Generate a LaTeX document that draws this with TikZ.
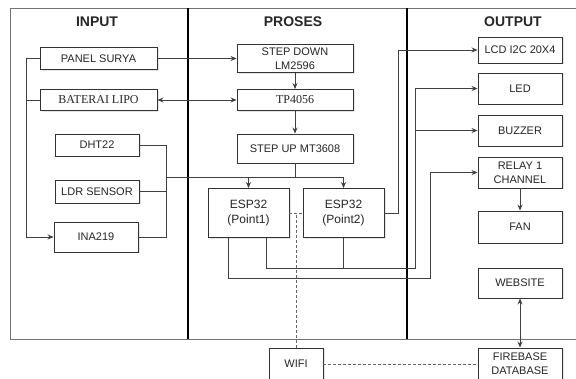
\documentclass[tikz,border=0pt]{standalone}
\usepackage{fontspec}
\setmainfont{Liberation Sans}
\newfontfamily\timesfont{Liberation Serif}
\usetikzlibrary{arrows.meta,shadows}
\begin{document}
\begin{tikzpicture}[x=1pt,y=-1pt,>={Stealth[length=6pt,width=5pt]},
blok/.style={draw=black!80,line width=0.9pt,fill=white,inner sep=0pt,align=center,text=black!85,
font=\fontsize{11}{14}\selectfont,drop shadow={shadow xshift=1.5pt,shadow yshift=-1.5pt,opacity=0.2}},
judul/.style={font=\fontsize{14}{16}\selectfont\bfseries,text=black!85},
garis/.style={draw=black!75,line width=0.8pt},
putus/.style={draw=black!60,line width=0.8pt,dash pattern=on 3pt off 2pt}]
\useasboundingbox (0,0) rectangle (576,379);
\draw[black!55,line width=0.8pt] (576,8) -- (10,8) -- (10,339) -- (576,339);
\draw[line width=1.4pt] (188,8) -- (188,339);
\draw[line width=1.4pt] (407,8) -- (407,339);
\node[judul] (hinput) at (97,22) {INPUT};
\node[judul] (hproses) at (293,22) {PROSES};
\node[judul] (houtput) at (513,22) {OUTPUT};
\node[blok,minimum width=117pt,minimum height=22pt] (panel) at (98.5,58.5) {PANEL SURYA};
\node[blok,minimum width=117pt,minimum height=21pt,font=\timesfont\fontsize{12}{14}\selectfont] (baterai) at (98.5,100) {BATERAI LIPO};
\node[blok,minimum width=84pt,minimum height=22pt] (dht) at (97,145) {DHT22};
\node[blok,minimum width=84pt,minimum height=23pt] (ldr) at (97,191.5) {LDR SENSOR};
\node[blok,minimum width=84pt,minimum height=30pt] (ina) at (96,237) {INA219};
\node[blok,minimum width=116pt,minimum height=28pt] (stepdown) at (295,58.5) {STEP DOWN\\LM2596};
\node[blok,minimum width=116pt,minimum height=21pt,font=\timesfont\fontsize{12}{14}\selectfont] (tp) at (295,100) {TP4056};
\node[blok,minimum width=116pt,minimum height=29pt] (stepup) at (295,148.5) {STEP UP MT3608};
\node[blok,minimum width=81pt,minimum height=49pt,font=\fontsize{12}{15}\selectfont] (esp1) at (248.5,213) {ESP32\\(Point1)};
\node[blok,minimum width=81pt,minimum height=49pt,font=\fontsize{12}{15}\selectfont] (esp2) at (343.5,213) {ESP32\\(Point2)};
\node[blok,minimum width=84pt,minimum height=26pt] (lcd) at (520,50) {LCD I2C 20X4};
\node[blok,minimum width=84pt,minimum height=31pt] (led) at (520,88.5) {LED};
\node[blok,minimum width=84pt,minimum height=31pt] (buzzer) at (520,130.5) {BUZZER};
\node[blok,minimum width=84pt,minimum height=31pt] (relay) at (520,172.5) {RELAY 1\\CHANNEL};
\node[blok,minimum width=84pt,minimum height=32pt] (fan) at (520,227) {FAN};
\node[blok,minimum width=84pt,minimum height=30pt] (web) at (520,283) {WEBSITE};
\node[blok,minimum width=84pt,minimum height=32pt] (fire) at (520,364) {FIREBASE\\DATABASE};
\node[blok,minimum width=54pt,minimum height=32pt] (wifi) at (296,364) {WIFI};
\coordinate (bus) at (166,177);
\coordinate (ledbus) at (415,268);
\coordinate (relbus) at (430,278);
\draw[garis,->] (panel.west) -- ++(-13,0) |- (ina.west);
\draw[garis] (baterai.west) -- ++(-13,0);
\draw[garis] (dht.east) -- ++(27,0) |- (ina.east);
\draw[garis] (ldr.east) -- ++(27,0);
\draw[garis] (bus) -- (stepup.south |- bus);
\draw[garis,->] (stepup.south) -- ++(0,14) -| (esp1.north);
\draw[garis,->] (stepup.south) -- ++(0,14) -| (esp2.north);
\draw[garis,->] (panel) -- (stepdown);
\draw[garis,<->] (baterai) -- (tp);
\draw[garis,->] (stepdown) -- (tp);
\draw[garis,->] (tp) -- (stepup);
\draw[garis,->] (esp2.east) -- ++(14,0) |- (lcd.west);
\draw[garis,->] (esp1.south) ++(17.5,0) |- (ledbus) |- (led.west);
\draw[garis,->] (ledbus) |- (buzzer.west);
\draw[garis] (esp2.south) -- (esp2.south |- ledbus);
\draw[garis,->] (esp1.south) ++(-20.5,0) |- (relbus) |- (relay.west);
\draw[garis,->] (relay) -- (fan);
\draw[garis,<->] (web) -- (fire);
\draw[putus] (esp1.east) -- (esp2.west);
\draw[putus] (wifi.north) -- (wifi.north |- esp1.east);
\draw[putus] (wifi.east) -- (fire.west);
\end{tikzpicture}
\end{document}
